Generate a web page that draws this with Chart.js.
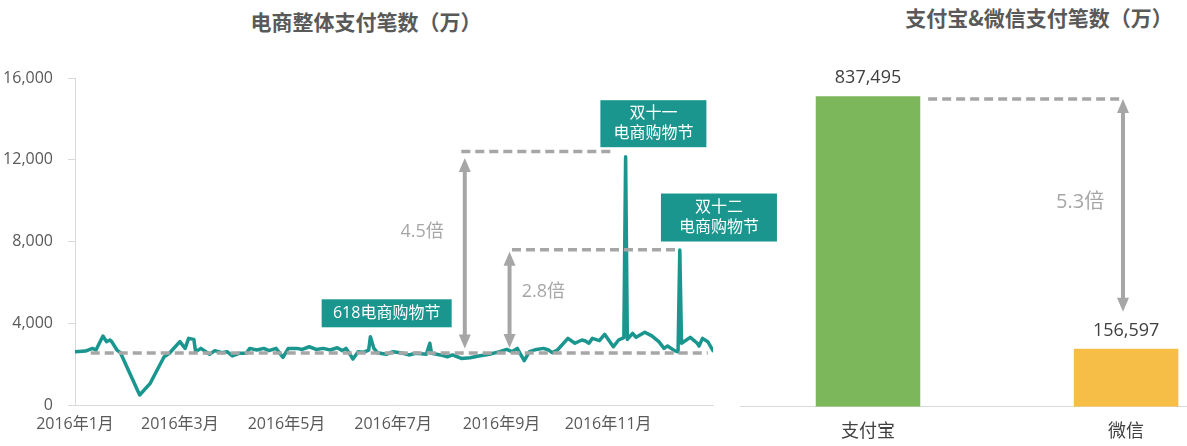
<!DOCTYPE html>
<html><head><meta charset="utf-8">
<script src="https://cdn.jsdelivr.net/npm/chart.js@4"></script>
<style>
html,body{margin:0;padding:0;background:#fff;width:1187px;height:446px;overflow:hidden;}
#wrap{position:relative;width:1187px;height:446px;}
.cv{position:absolute;top:0;}
.title{position:absolute;font-family:'Noto Sans CJK SC',sans-serif;font-weight:bold;font-size:21px;color:#595959;white-space:nowrap;line-height:1;transform:translateX(-50%);}
</style></head>
<body><div id="wrap">
<div class="title" style="left:366px;top:11px;">电商整体支付笔数（万）</div>
<div class="title" style="left:1039px;top:7px;">支付宝&amp;微信支付笔数（万）</div>
<canvas id="c2" class="cv" style="left:740px" width="447" height="446"></canvas>
<canvas id="c1" class="cv" style="left:0px" width="790" height="446"></canvas>
</div>
<script>
// ---- data: e-commerce daily payments (万), day index from 2016-01-01 ----
const lineDays = [0,6,10,12,16,18,20,21,24,26,37,43,47,51,54,60,63,65,68,69,72,77,80,84,87,90,94,98,100,104,108,111,115,119,122,127,130,134,138,142,146,150,153,155,157,159,162,165,168,169,171,173,178,182,186,191,195,201,203,204,209,213,216,221,226,231,237,243,247,250,253,257,260,264,268,271,273,276,282,286,290,292,294,296,300,303,308,311,314,315,316,319,321,326,330,334,337,339,343,345,346,347,352,356,357,359,362,365];
const lineValues = [2600,2640,2770,2690,3375,3100,3180,3100,2690,2560,490,1060,1710,2360,2530,3100,2770,3260,3210,2610,2770,2480,2660,2560,2610,2400,2530,2530,2770,2690,2770,2660,2770,2330,2770,2770,2720,2850,2720,2770,2690,2800,2660,2770,2530,2250,2610,2580,2690,3340,2770,2560,2480,2610,2560,2450,2530,2480,3020,2530,2450,2360,2450,2280,2310,2400,2480,2610,2720,2610,2770,2170,2610,2720,2770,2690,2560,2690,3260,3020,3180,3130,3020,3260,3150,3460,2850,3180,3300,12150,3210,3510,3310,3560,3380,3100,2770,2890,2660,2600,7580,3020,3310,3020,2890,3260,3100,2660];
const baselineValue = 2550;
const peak11Value = 12400;
const peak12Value = 7600;
const yTicks = [0, 4000, 8000, 12000, 16000];
const monthTickDays = [0, 60, 121, 182, 244, 305];
const monthTickLabels = ['2016年1月','2016年3月','2016年5月','2016年7月','2016年9月','2016年11月'];
// ---- data: Alipay vs WeChat ----
const payCategories = ['支付宝', '微信'];
const payValues = [837495, 156597];
const payRatio = '5.3倍';

const TEAL = '#1a968f', GRAY = '#a6a6a6', AXIS = '#d9d9d9', TXT = '#595959', DARK = '#404040';
const FONT = "'Open Sans','Noto Sans CJK SC',sans-serif";
const CJK = "'Open Sans','Noto Sans CJK SC',sans-serif";

function drawArrow(ctx, x, yTop, yBot, color) {
  const hl = 14, hw = 6;
  ctx.save();
  ctx.strokeStyle = color; ctx.fillStyle = color; ctx.lineWidth = 4;
  ctx.beginPath(); ctx.moveTo(x, yTop + hl - 1); ctx.lineTo(x, yBot - hl + 1); ctx.stroke();
  ctx.beginPath(); ctx.moveTo(x, yTop); ctx.lineTo(x - hw, yTop + hl); ctx.lineTo(x + hw, yTop + hl); ctx.closePath(); ctx.fill();
  ctx.beginPath(); ctx.moveTo(x, yBot); ctx.lineTo(x - hw, yBot - hl); ctx.lineTo(x + hw, yBot - hl); ctx.closePath(); ctx.fill();
  ctx.restore();
}

const notePlugin = {
  id: 'notes',
  afterDatasetsDraw(chart, args, opts) {
    const ctx = chart.ctx, xs = chart.scales.x, ys = chart.scales.y;
    ctx.save();
    (opts.dashes || []).forEach(d => {
      ctx.save();
      ctx.strokeStyle = GRAY; ctx.lineWidth = 3.5; ctx.setLineDash([9, 5]);
      ctx.beginPath();
      ctx.moveTo(xs.getPixelForValue(d.x0), ys.getPixelForValue(d.y));
      ctx.lineTo(xs.getPixelForValue(d.x1), ys.getPixelForValue(d.y));
      ctx.stroke(); ctx.restore();
    });
    (opts.arrows || []).forEach(a => drawArrow(ctx, xs.getPixelForValue(a.x), ys.getPixelForValue(a.from), ys.getPixelForValue(a.to), GRAY));
    (opts.labels || []).forEach(l => {
      ctx.fillStyle = GRAY; ctx.font = l.size + 'px ' + CJK;
      ctx.textAlign = 'center'; ctx.textBaseline = 'middle';
      ctx.fillText(l.text, xs.getPixelForValue(l.x), ys.getPixelForValue(l.y));
    });
    (opts.boxes || []).forEach(b => {
      const cx = xs.getPixelForValue(b.x), cy = ys.getPixelForValue(b.y);
      ctx.fillStyle = TEAL;
      ctx.fillRect(cx - b.w / 2, cy - b.h / 2, b.w, b.h);
      ctx.fillStyle = '#ffffff'; ctx.font = '16px ' + CJK;
      ctx.textAlign = 'center'; ctx.textBaseline = 'middle';
      const n = b.lines.length, lh = 20;
      b.lines.forEach((t, i) => ctx.fillText(t, cx, cy + (i - (n - 1) / 2) * lh));
    });
    (opts.barValues ? chart.getDatasetMeta(0).data : []).forEach((bar, i) => {
      ctx.fillStyle = DARK; ctx.font = '18px ' + FONT;
      ctx.textAlign = 'center'; ctx.textBaseline = 'middle';
      ctx.fillText(payValues[i].toLocaleString('en-US'), bar.x, bar.y - 18);
    });
    ctx.restore();
  }
};

new Chart(document.getElementById('c1'), {
  type: 'line',
  data: {
    datasets: [
      { label: 'base', data: [{x: 9, y: baselineValue}, {x: 362, y: baselineValue}], borderColor: GRAY, borderWidth: 3.5, borderDash: [9, 5], pointRadius: 0, order: 0 },
      { label: 'p11', data: [{x: 221, y: peak11Value}, {x: 309, y: peak11Value}], borderColor: GRAY, borderWidth: 3.5, borderDash: [9, 5], pointRadius: 0, order: 0 },
      { label: 'p12', data: [{x: 250, y: peak12Value}, {x: 344, y: peak12Value}], borderColor: GRAY, borderWidth: 3.5, borderDash: [9, 5], pointRadius: 0, order: 0 },
      { label: '电商整体支付笔数', data: lineDays.map((d, i) => ({x: d, y: lineValues[i]})), borderColor: TEAL, borderWidth: 3.5, pointRadius: 0, tension: 0, borderJoinStyle: 'round', borderCapStyle: 'round', order: 1 }
    ]
  },
  options: {
    responsive: false, animation: false, devicePixelRatio: 1,
    layout: { padding: { top: 78, right: 77, left: 0, bottom: 0 } },
    plugins: {
      legend: { display: false }, tooltip: { enabled: false },
      notes: {
        arrows: [{x: 223, from: 12080, to: 2770}, {x: 248.6, from: 7500, to: 2790}],
        labels: [{x: 198.6, y: 8464, text: '4.5倍', size: 18}, {x: 268, y: 5530, text: '2.8倍', size: 18}],
        boxes: [
          {x: 178.3, y: 4487, w: 130, h: 28, lines: ['618电商购物节']},
          {x: 330.9, y: 13764, w: 106, h: 47, lines: ['双十一', '电商购物节']},
          {x: 368.4, y: 9174, w: 116, h: 48, lines: ['双十二', '电商购物节']}
        ]
      }
    },
    scales: {
      x: {
        type: 'linear', min: 0, max: 365, offset: false,
        afterBuildTicks: s => { s.ticks = monthTickDays.map(v => ({value: v})); },
        afterFit: s => { s.height = 41; },
        ticks: { autoSkip: false, maxRotation: 0, padding: 10, color: TXT, font: {size: 16, family: FONT}, callback: (v, i) => monthTickLabels[i] },
        grid: { drawOnChartArea: false, drawTicks: false },
        border: { color: AXIS, width: 1 }
      },
      y: {
        min: 0, max: 16000,
        afterBuildTicks: s => { s.ticks = yTicks.map(v => ({value: v})); },
        afterFit: s => { s.width = 75; },
        ticks: { padding: 15, color: TXT, font: {size: 16, family: FONT}, callback: v => Number(v).toLocaleString('en-US') },
        grid: { drawOnChartArea: false, drawTicks: true, tickLength: 7, color: AXIS },
        border: { color: AXIS, width: 1 }
      }
    }
  },
  plugins: [notePlugin]
});

new Chart(document.getElementById('c2'), {
  type: 'bar',
  data: {
    datasets: [{ label: '支付笔数', data: payCategories.map((c, i) => ({x: i, y: payValues[i]})), backgroundColor: ['#7db75b', '#f6bd47'], categoryPercentage: 1, barPercentage: 0.405 }]
  },
  options: {
    responsive: false, animation: false, devicePixelRatio: 1,
    layout: { padding: { top: 73, right: 0, left: 0, bottom: 0 } },
    plugins: {
      legend: { display: false }, tooltip: { enabled: false },
      notes: {
        barValues: true,
        dashes: [{x0: 0.233, x1: 0.977, y: 830000}],
        arrows: [{x: 0.988, from: 830000, to: 256300}],
        labels: [{x: 0.822, y: 552000, text: payRatio, size: 20}]
      }
    },
    scales: {
      x: {
        type: 'linear', min: -0.496, max: 1.236, offset: false,
        afterBuildTicks: s => { s.ticks = payCategories.map((c, i) => ({value: i})); },
        afterFit: s => { s.height = 39.3; },
        ticks: { autoSkip: false, maxRotation: 0, padding: 14, color: DARK, font: {size: 18, family: FONT}, callback: (v, i) => payCategories[i] },
        grid: { drawOnChartArea: false, drawTicks: false },
        border: { color: AXIS, width: 1 }
      },
      y: { display: false, min: 0, max: 900000 }
    }
  },
  plugins: [notePlugin]
});
</script>
</body></html>
